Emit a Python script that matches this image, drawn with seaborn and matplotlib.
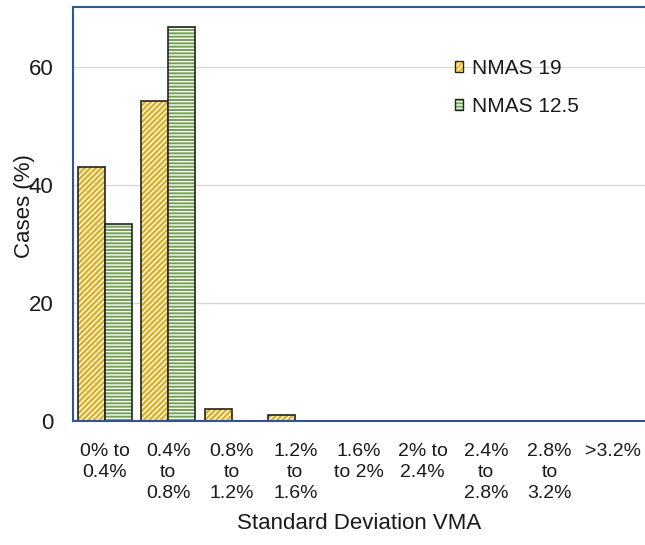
import numpy as np
import pandas as pd
import matplotlib
matplotlib.use("Agg")
import matplotlib.pyplot as plt
import seaborn as sns
from matplotlib.colors import to_rgba
from matplotlib.patches import Patch

# data
categories = ["0% to\n0.4%", "0.4%\nto\n0.8%", "0.8%\nto\n1.2%", "1.2%\nto\n1.6%",
              "1.6%\nto 2%", "2% to\n2.4%", "2.4%\nto\n2.8%", "2.8%\nto\n3.2%", ">3.2%"]
nmas_19 = [43.0, 54.2, 2.0, 1.0, 0, 0, 0, 0, 0]
nmas_12_5 = [33.4, 66.8, 0, 0, 0, 0, 0, 0, 0]
series = ["NMAS 19", "NMAS 12.5"]
yticks = [0, 20, 40, 60]

colors = {"NMAS 19": "#FFC000", "NMAS 12.5": "#70AD47"}
hatches = {"NMAS 19": "//////", "NMAS 12.5": "-----"}
spine_color = "#2F5597"
text_color = "#1a1a1a"

df = pd.DataFrame({
    "category": categories * 2,
    "cases": nmas_19 + nmas_12_5,
    "series": [series[0]] * len(categories) + [series[1]] * len(categories),
})

sns.set_style("white")
plt.rcParams["font.family"] = ["Liberation Sans", "DejaVu Sans"]
plt.rcParams["hatch.linewidth"] = 1.0


def set_hatch_color(patch, color):
    if hasattr(patch, "set_hatchcolor"):
        patch.set_hatchcolor(color)
    else:
        patch._hatch_color = to_rgba(color)


fig = plt.figure(figsize=(6.45, 5.45), dpi=100)
ax = fig.add_axes([0.113, 0.2275, 0.887, 0.76])

sns.barplot(data=df, x="category", y="cases", hue="series", order=categories,
            hue_order=series, palette=colors, width=0.85, ax=ax,
            legend=False, zorder=2)

for name, container in zip(series, ax.containers):
    for bar in container:
        bar.set_hatch(hatches[name])
        if bar.get_height() > 0:
            bar.set_edgecolor("#222222")
            bar.set_linewidth(1.2)
        else:
            bar.set_edgecolor("none")
            bar.set_linewidth(0)
        set_hatch_color(bar, "white")

ax.set_ylim(0, 70.2)
ax.set_xlim(-0.5, 8.5)
ax.set_yticks(yticks)
ax.yaxis.grid(True, color="#d9d9d9", linewidth=1.0, zorder=0)
ax.set_axisbelow(True)

ax.tick_params(axis="y", length=0, pad=14, labelsize=16, labelcolor=text_color)
ax.tick_params(axis="x", length=0, pad=16, labelsize=14, labelcolor=text_color)
for lbl in ax.get_xticklabels():
    lbl.set_linespacing(1.28)
    lbl.set_verticalalignment("top")

for side in ["left", "bottom", "top"]:
    ax.spines[side].set_color(spine_color)
    ax.spines[side].set_linewidth(1.5)
ax.spines["right"].set_visible(False)

ax.set_xlabel("Standard Deviation VMA", fontsize=16, color=text_color, labelpad=8)
ax.set_ylabel("Cases (%)", fontsize=16, color=text_color)
ax.yaxis.set_label_coords(-0.066, 0.52)

handles = [Patch(facecolor=colors[s], hatch=hatches[s], edgecolor="#222222",
                 linewidth=1.0, label=s) for s in series]
leg = ax.legend(handles=handles, loc="upper left",
                bbox_to_anchor=(455 / 645, 1 - 59 / 545),
                bbox_transform=fig.transFigure, frameon=False, fontsize=15,
                handlelength=0.4, handleheight=0.45, handletextpad=0.4,
                labelspacing=0.9, borderpad=0, borderaxespad=0)
for h in leg.legend_handles:
    set_hatch_color(h, "white")
for t in leg.get_texts():
    t.set_color(text_color)

fig.savefig("out.png", dpi=100)
